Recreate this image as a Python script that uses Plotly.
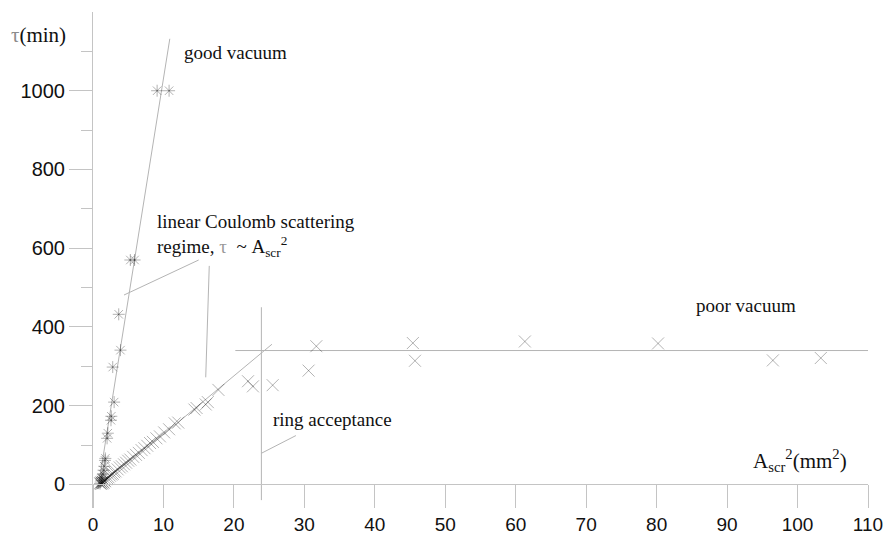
import plotly.graph_objects as go

# Beam lifetime versus squared scraper acceptance
# good vacuum: asterisk points
good_x = [1.0, 1.1, 1.2, 1.25, 1.3, 1.4, 1.5, 1.6, 1.7, 1.75, 2.0, 2.1, 2.55, 2.6,
          3.0, 2.8, 3.9, 3.65, 5.3, 5.9, 9.1, 10.8]
good_y = [2, 6, 10, 18, 14, 26, 36, 46, 61, 66, 117, 130, 163, 173,
          209, 298, 341, 432, 570, 570, 1000, 1000]

# poor vacuum: cross points
poor_x = [1.0, 1.1, 1.2, 1.3, 1.4, 1.5, 1.6, 1.7, 1.8, 2.0, 2.2, 2.4, 2.6, 2.8,
          3.0, 3.2, 3.5, 3.8, 4.1, 4.4, 4.7, 5.0, 5.3, 5.7, 6.1, 6.5, 6.9, 7.3,
          7.7, 8.1, 8.5, 9.0, 9.5, 10.1, 10.8, 11.6, 12.1, 14.4, 14.7, 16.0, 16.3,
          17.8, 22.0, 22.7, 25.5, 30.6, 31.7, 45.4, 45.7, 61.3, 80.2, 96.5, 103.3]
poor_y = [3, 1, 5, 2, 7, 4, 10, 8, 13, 16, 18, 22, 25, 27,
          31, 33, 38, 43, 46, 51, 55, 60, 63, 70, 75, 80, 87, 92,
          98, 105, 108, 117, 122, 132, 140, 155, 157, 190, 194, 203, 209,
          240, 262, 249, 252, 289, 351, 359, 314, 363, 358, 315, 321]

# guide lines (endpoints)
good_fit_x = [0.7, 10.9]
good_fit_y = [-12, 1132]
ring_fit_x = [0.7, 25.4]
ring_fit_y = [-12, 356]
plateau_x = [20.2, 110]
plateau_y = [340, 340]
acceptance_x = [23.9, 23.9]
acceptance_y = [-40, 450]

# annotation leader lines
leaders = [
    ([4.4, 15.0], [481, 570]),
    ([16.0, 16.5], [272, 555]),
    ([23.9, 28.8], [79, 124]),
]

x_ticks = [0, 10, 20, 30, 40, 50, 60, 70, 80, 90, 100, 110]
y_ticks = [0, 200, 400, 600, 800, 1000]
y_minor = [100, 300, 500, 700, 900, 1100]

X_RANGE = [0, 110]
Y_RANGE = [-60, 1200]

AXIS_GREY = "#c4c4c4"
LINE_GREY = "#b4b4b4"
SERIF = "Liberation Serif"
SANS = "Liberation Sans"

fig = go.Figure()

for xs, ys in [(good_fit_x, good_fit_y), (ring_fit_x, ring_fit_y),
               (plateau_x, plateau_y), (acceptance_x, acceptance_y)] + leaders:
    fig.add_trace(go.Scatter(x=xs, y=ys, mode="lines",
                             line=dict(color=LINE_GREY, width=1),
                             hoverinfo="skip", showlegend=False))

POOR_INK = "rgba(0,0,0,0.3)"
GOOD_INK = "rgba(0,0,0,0.3)"
fig.add_trace(go.Scatter(
    x=poor_x, y=poor_y, mode="markers", showlegend=False,
    marker=dict(symbol="x-thin-open", size=12, color=POOR_INK,
                line=dict(color=POOR_INK, width=1)),
))
fig.add_trace(go.Scatter(
    x=good_x, y=good_y, mode="markers", showlegend=False,
    marker=dict(symbol="asterisk-open", size=10, color=GOOD_INK,
                line=dict(color=GOOD_INK, width=1)),
))

ann_font = dict(family=SERIF, size=19, color="#111")
fig.add_annotation(x=12.6, y=1097, xref="x", yref="y", text="good vacuum",
                   showarrow=False, xanchor="left", yanchor="middle", font=ann_font)
fig.add_annotation(
    x=8.8, y=631, xref="x", yref="y", align="left",
    text="linear Coulomb scattering<br>regime, <span style='color:#999'>τ</span>"
         "\u00a0\u00a0~ A<sub>scr</sub><sup>2</sup>",
    showarrow=False, xanchor="left", yanchor="middle", font=ann_font)
fig.add_annotation(x=85.3, y=455, xref="x", yref="y", text="poor vacuum",
                   showarrow=False, xanchor="left", yanchor="middle", font=ann_font)
fig.add_annotation(x=25.3, y=165, xref="x", yref="y", text="ring acceptance",
                   showarrow=False, xanchor="left", yanchor="middle", font=ann_font)
fig.add_annotation(x=93.4, y=60, xref="x", yref="y",
                   text="A<sub>scr</sub><sup>2</sup>(mm<sup>2</sup>)",
                   showarrow=False, xanchor="left", yanchor="middle",
                   font=dict(family=SERIF, size=21, color="#111"))
fig.add_annotation(x=-0.108, y=0.953, xref="paper", yref="paper",
                   text="<span style='color:#8c8c8c'>τ</span>(min)",
                   showarrow=False, xanchor="left", yanchor="middle",
                   font=dict(family=SERIF, size=21, color="#111"))

fig.update_layout(
    width=887, height=534,
    margin=dict(l=93, r=19, t=12, b=26, autoexpand=False),
    plot_bgcolor="white", paper_bgcolor="white",
    xaxis=dict(
        range=X_RANGE, anchor="free", automargin=False,
        position=(0 - Y_RANGE[0]) / (Y_RANGE[1] - Y_RANGE[0]),
        tickvals=x_ticks, ticks="outside", ticklen=23, tickcolor=AXIS_GREY,
        showline=True, linecolor=AXIS_GREY, linewidth=1,
        showgrid=False, zeroline=False,
        tickfont=dict(family=SANS, size=19, color="#111"),
    ),
    yaxis=dict(
        range=Y_RANGE, automargin=False,
        tickvals=y_ticks, ticks="outside", ticklen=23, tickcolor=AXIS_GREY,
        showline=True, linecolor=AXIS_GREY, linewidth=1,
        showgrid=False, zeroline=False,
        tickfont=dict(family=SANS, size=20, color="#111"),
        minor=dict(tickvals=y_minor, ticks="outside", ticklen=11,
                   tickcolor=AXIS_GREY, showgrid=False),
    ),
)

fig.write_html("out.html")
